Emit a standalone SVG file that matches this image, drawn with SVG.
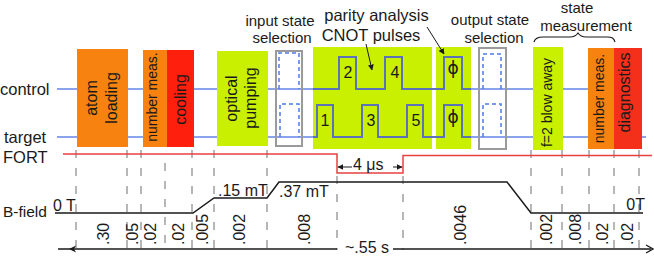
<svg xmlns="http://www.w3.org/2000/svg" width="654" height="261" viewBox="0 0 654 261">
<style>
text{font-family:"Liberation Sans",Arial,sans-serif;fill:#1a1a1a}
.f16{font-size:16px}.f15{font-size:15px}.f14{font-size:14px}
.mid{text-anchor:middle}
.phi{font-family:"DejaVu Sans","Liberation Sans",sans-serif;font-size:17px}
.orange{fill:#f7820f}.red{fill:#fe1f0d}.green{fill:#c8f000}
.sel{fill:none;stroke:#9a9a9a;stroke-width:2}
.base{fill:none;stroke:#6483e6;stroke-width:1.5}
.wave{fill:none;stroke:#5b72b8;stroke-width:2}
.dpulse{fill:none;stroke:#4d7be8;stroke-width:1.5;stroke-dasharray:4 3}
.tick{stroke:#a0a0a0;stroke-width:1.5;stroke-dasharray:8 10}
.blk{fill:none;stroke:#1a1a1a;stroke-width:1.5}
.fort{fill:none;stroke:#e84040;stroke-width:1.5}
</style>
<defs>
<marker id="ah" viewBox="0 0 10 10" refX="9" refY="5" markerWidth="6" markerHeight="6" orient="auto" markerUnits="userSpaceOnUse">
<path d="M0,0 L10,5 L0,10 z" fill="#1a1a1a"/>
</marker>
</defs>

<!-- row labels -->
<g id="labels">
<text x="0" y="95" style="font-size:16.5px">control</text>
<text x="4" y="143" style="font-size:16.5px">target</text>
<text x="3" y="163" style="font-size:16.5px">FORT</text>
<text x="3" y="217" style="font-size:15.5px">B-field</text>
</g>

<!-- vertical timing marks -->
<g id="ticks">
<line class="tick" x1="76" y1="150" x2="76" y2="250"/>
<line class="tick" x1="127" y1="150" x2="127" y2="250"/>
<line class="tick" x1="141" y1="150" x2="141" y2="250"/>
<line class="tick" x1="165" y1="163" x2="165" y2="250"/>
<line class="tick" x1="192" y1="150" x2="192" y2="250"/>
<line class="tick" x1="214" y1="150" x2="214" y2="250"/>
<line class="tick" x1="267" y1="150" x2="267" y2="250"/>
<line class="tick" x1="337" y1="176" x2="337" y2="250"/>
<line class="tick" x1="403" y1="176" x2="403" y2="250"/>
<line class="tick" x1="531" y1="150" x2="531" y2="250"/>
<line class="tick" x1="562" y1="150" x2="562" y2="250"/>
<line class="tick" x1="589" y1="150" x2="589" y2="250"/>
<line class="tick" x1="614" y1="150" x2="614" y2="250"/>
<line class="tick" x1="639" y1="150" x2="639" y2="250"/>
</g>

<!-- qubit base lines -->
<g id="qubit-lines">
<line class="base" x1="57" y1="89" x2="588" y2="89"/>
<line class="base" x1="57" y1="137" x2="646" y2="137"/>
</g>

<g id="atom-loading">
<rect class="orange" x="77" y="49" width="51" height="98"/>
<text class="f16 mid" transform="translate(97,98) rotate(-90)">atom</text>
<text class="f16 mid" transform="translate(117,98) rotate(-90)">loading</text>
</g>
<g id="number-meas-1">
<rect class="orange" x="143" y="50" width="24" height="97"/>
<text class="f14 mid" transform="translate(157,97) rotate(-90)">number meas.</text>
</g>
<g id="cooling">
<rect class="red" x="167" y="50" width="27" height="97"/>
<text class="f16 mid" transform="translate(186,99.5) rotate(-90)">cooling</text>
</g>
<g id="optical-pumping">
<rect class="green" x="217" y="51" width="51" height="95"/>
<text class="f16 mid" transform="translate(237,98.5) rotate(-90)">optical</text>
<text class="f16 mid" transform="translate(256,98) rotate(-90)">pumping</text>
</g>
<g id="input-selection">
<rect class="sel" x="276" y="51" width="26" height="95"/>
<path class="dpulse" d="M279,89 V53 H299 V89"/>
<path class="dpulse" d="M280,137 V104 H299 V137"/>
<text class="f15 mid" x="280" y="25.5">input state</text>
<text class="f15 mid" x="282" y="43">selection</text>
</g>
<g id="cnot-pulses">
<rect class="green" x="313" y="47" width="119" height="102"/>
<text class="mid" x="376.5" y="21" style="font-size:16.5px">parity analysis</text>
<text class="mid" x="371" y="41" style="font-size:16.5px">CNOT pulses</text>
</g>
<g id="phase-pulses">
<rect class="green" x="436" y="47" width="35" height="102"/>
</g>
<g id="waveforms">
<path class="wave" d="M313,89 H339 V57 H356 V89 H385 V57 H402 V89 H444 V57 H462 V89 H471"/>
<path class="wave" d="M313,137 H317 V105 H333 V137 H362 V105 H378 V137 H407 V105 H423 V137 H444 V105 H462 V137 H471"/>
<text class="f16 mid" x="348" y="78">2</text>
<text class="f16 mid" x="395" y="78">4</text>
<text class="f16 mid" x="325" y="126">1</text>
<text class="f16 mid" x="371" y="126">3</text>
<text class="f16 mid" x="416" y="126">5</text>
<text class="phi mid" x="453" y="74">ϕ</text>
<text class="phi mid" x="453" y="123">ϕ</text>
</g>
<g id="output-selection">
<rect class="sel" x="479" y="48" width="27" height="101"/>
<path class="dpulse" d="M483,89 V54 H501 V89"/>
<path class="dpulse" d="M483,137 V104 H501 V137"/>
<text class="f15 mid" x="490" y="25">output state</text>
<text class="f15 mid" x="494" y="43">selection</text>
</g>
<g id="state-measurement">
<text class="f15 mid" x="577" y="12.5">state</text>
<text class="f15 mid" x="586" y="31">measurement</text>
<path class="blk" style="stroke-width:1.2" d="M534,42 C535,38 538,37 543,37 L570,37 C574,37 576,36 578,33 C580,36 582,37 586,37 L607,37 C612,37 614,38 615,42"/>
</g>
<g id="blow-away">
<rect class="green" x="533" y="47" width="30" height="103"/>
<text class="f14 mid" transform="translate(552,102.5) rotate(-90)">f=2 blow away</text>
</g>
<g id="number-meas-2">
<rect class="orange" x="588" y="48" width="26" height="101"/>
<text class="f14 mid" transform="translate(604,98.5) rotate(-90)">number meas.</text>
</g>
<g id="diagnostics">
<rect x="614" y="48" width="28" height="101" fill="#f5301a"/>
<text class="f16 mid" transform="translate(630,92.5) rotate(-90)">diagnostics</text>
</g>

<!-- FORT -->
<g id="fort">
<path class="fort" d="M63,154 H337 V173 H403 V155.5 H652"/>
<text class="f16" x="353" y="170">4 μs</text>
</g>

<!-- B-field -->
<g id="bfield">
<path class="blk" d="M55,213 H193 L214,198 H267 L279,182 H507 L531,213 H643"/>
<text class="f16" x="53" y="211">0 T</text>
<text class="f16" x="218" y="196">.15 mT</text>
<text class="f16" x="279" y="197">.37 mT</text>
<text class="f16" x="645" y="210" text-anchor="end">0T</text>
</g>

<!-- durations -->
<g id="durations" class="f16">
<text transform="translate(108.5,245) rotate(-90)">.30</text>
<text transform="translate(137.5,245) rotate(-90)">.05</text>
<text transform="translate(155.5,245) rotate(-90)">.02</text>
<text transform="translate(183.5,245) rotate(-90)">.02</text>
<text transform="translate(207.5,245) rotate(-90)">.005</text>
<text transform="translate(244.5,245) rotate(-90)">.002</text>
<text transform="translate(309.5,245) rotate(-90)">.008</text>
<text transform="translate(465.5,245) rotate(-90)">.0046</text>
<text transform="translate(551.5,245) rotate(-90)">.002</text>
<text transform="translate(580.5,245) rotate(-90)">.008</text>
<text transform="translate(607.5,245) rotate(-90)">.02</text>
<text transform="translate(632.5,245) rotate(-90)">.02</text>
<text x="345" y="253">~.55 s</text>
</g>

<!-- connectors / arrows -->
<g id="connectors">
<line class="blk" style="stroke-width:1" x1="366" y1="44" x2="372" y2="70" marker-end="url(#ah)"/>
<line class="blk" style="stroke-width:1" x1="427" y1="27" x2="444" y2="54" marker-end="url(#ah)"/>
<line class="blk" style="stroke-width:1" x1="352" y1="167" x2="338" y2="167" marker-end="url(#ah)"/>
<line class="blk" style="stroke-width:1" x1="393" y1="167" x2="402" y2="167" marker-end="url(#ah)"/>
<line class="blk" x1="58" y1="249" x2="337" y2="249"/>
<path d="M69,249 L76,245.5 L74,249 L76,252.5 z" fill="#1a1a1a"/>
<line class="blk" x1="393" y1="249" x2="651" y2="249"/>
<path class="blk" style="stroke-width:1.3" d="M646,245 L653,249 L646,253"/>
</g>
</svg>
